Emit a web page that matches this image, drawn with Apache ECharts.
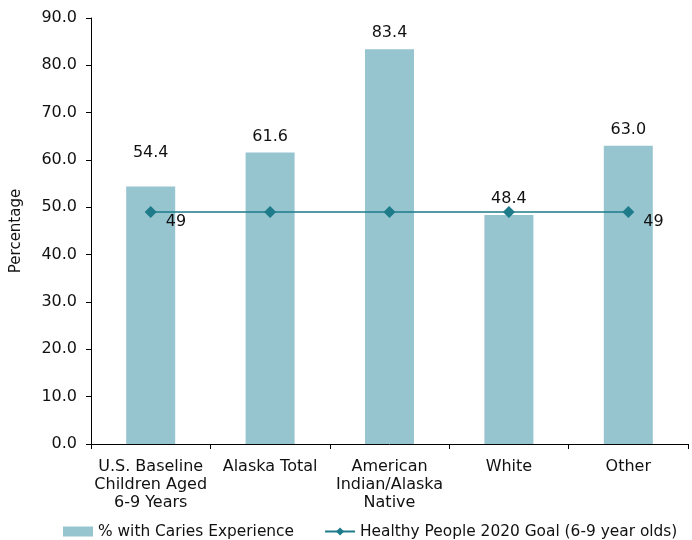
<!DOCTYPE html>
<html><head><meta charset="utf-8">
<script src="https://cdn.jsdelivr.net/npm/echarts@6/dist/echarts.min.js"></script>
<style>html,body{margin:0;padding:0;background:#fff}#c{width:692px;height:540px}</style>
</head><body><div id="c"></div>
<script>
const categories = ["U.S. Baseline\nChildren Aged\n6-9 Years", "Alaska Total", "American\nIndian/Alaska\nNative", "White", "Other"];
const cariesValues = [54.4, 61.6, 83.4, 48.4, 63.0];
const goalValues = [49, 49, 49, 49, 49];
const yTicks = { min: 0, max: 90, interval: 10 };
const seriesNames = ["% with Caries Experience", "Healthy People 2020 Goal (6-9 year olds)"];

const FONT = "DejaVu Sans";
const chart = echarts.init(document.getElementById('c'));
chart.setOption({
  animation: false,
  textStyle: { fontFamily: FONT, color: '#111' },
  grid: { left: 91, right: 4, top: 18, bottom: 96, containLabel: false },
  legend: {
    left: 58, top: 519, width: 634,
    itemWidth: 30, itemHeight: 10, itemGap: 30,
    textStyle: { fontFamily: FONT, fontSize: 15.4, color: '#111' },
    data: [
      { name: seriesNames[0], icon: 'rect' },
      { name: seriesNames[1] }
    ]
  },
  xAxis: {
    type: 'category', data: categories,
    axisLine: { lineStyle: { color: '#000', width: 1 } },
    axisTick: { show: true, length: 5, lineStyle: { color: '#000' } },
    axisLabel: { fontFamily: FONT, fontSize: 16, color: '#111', lineHeight: 18, margin: 14, interval: 0 }
  },
  yAxis: {
    type: 'value', min: yTicks.min, max: yTicks.max, interval: yTicks.interval,
    name: 'Percentage', nameLocation: 'middle', nameGap: 67,
    nameTextStyle: { fontFamily: FONT, fontSize: 15, color: '#111' },
    axisLine: { show: true, lineStyle: { color: '#000', width: 1 } },
    axisTick: { show: true, length: 5, lineStyle: { color: '#000' } },
    splitLine: { show: false },
    axisLabel: { fontFamily: FONT, fontSize: 16, color: '#111', margin: 14, formatter: v => v.toFixed(1) }
  },
  series: [
    {
      name: seriesNames[0], type: 'bar', barWidth: 49,
      itemStyle: { color: '#96C4CF' },
      data: cariesValues.map((v, i) => ({
        value: v,
        label: i === 0 ? { offset: [0, -18] } : {}
      })),
      label: {
        show: true, position: 'top', distance: 8,
        fontFamily: FONT, fontSize: 16, color: '#111',
        formatter: p => p.value.toFixed(1)
      },
      z: 1
    },
    {
      name: seriesNames[1], type: 'line',
      symbol: 'diamond', symbolSize: 12,
      lineStyle: { color: '#1D7B8A', width: 1.5 },
      itemStyle: { color: '#1D7B8A' },
      data: goalValues.map((v, i) => ({
        value: v,
        label: { show: i === 0 || i === goalValues.length - 1 }
      })),
      label: {
        position: 'right', distance: 9, offset: [0, 10],
        fontFamily: FONT, fontSize: 16, color: '#111'
      },
      z: 3
    }
  ]
});
</script></body></html>
